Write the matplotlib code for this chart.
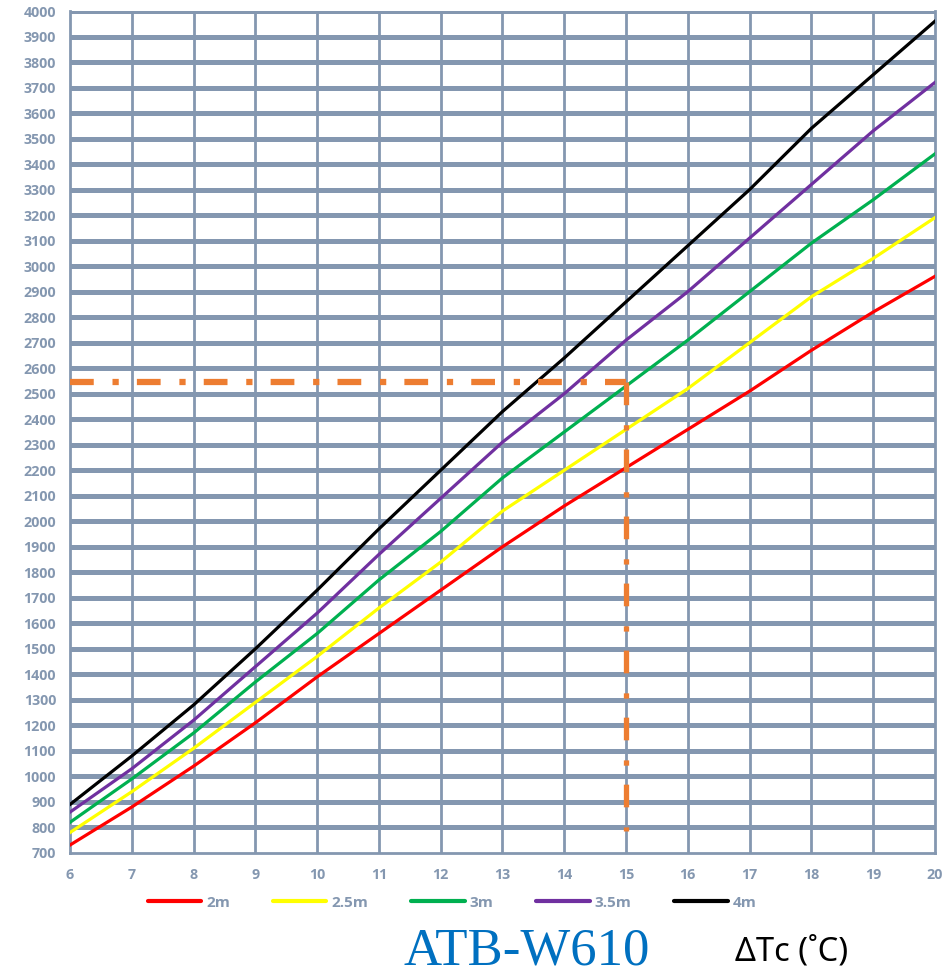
import matplotlib.pyplot as plt
import numpy as np

# Puissance en fonction de ΔTc pour chaque hauteur
delta_tc = [6, 7, 8, 9, 10, 11, 12, 13, 14, 15, 16, 17, 18, 19, 20]
p_2m = [731, 880, 1040, 1210, 1390, 1560, 1730, 1900, 2060, 2210, 2360, 2510, 2670, 2820, 2960]
p_2_5m = [780, 940, 1110, 1290, 1470, 1660, 1840, 2040, 2200, 2360, 2520, 2700, 2880, 3030, 3190]
p_3m = [820, 990, 1170, 1370, 1560, 1770, 1960, 2170, 2350, 2530, 2710, 2900, 3090, 3260, 3440]
p_3_5m = [860, 1030, 1220, 1430, 1640, 1870, 2090, 2310, 2500, 2710, 2900, 3110, 3320, 3530, 3720]
p_4m = [890, 1080, 1280, 1500, 1730, 1970, 2200, 2430, 2640, 2860, 3080, 3300, 3540, 3750, 3960]

series = [('2m', p_2m, '#FF0000'),
          ('2.5m', p_2_5m, '#FFFF00'),
          ('3m', p_3m, '#00B050'),
          ('3.5m', p_3_5m, '#7030A0'),
          ('4m', p_4m, '#000000')]

# Point de lecture
x_lect = 15
y_lect = 2545
y_bas = 785

grid_color = '#8497B0'

fig = plt.figure(figsize=(9.53, 9.77), dpi=100)
ax = fig.add_axes([0.0735, 0.127, 0.9075, 0.8617])

ax.set_xlim(6, 20)
ax.set_ylim(700, 4000)
ax.set_xticks(np.arange(6, 21, 1))
ax.set_yticks(np.arange(700, 4001, 100))

for v in np.arange(800, 4001, 100):
    ax.axhline(v, color=grid_color, lw=3.6, zorder=1)
for t in np.arange(7, 20, 1):
    ax.axvline(t, color=grid_color, lw=2.0, zorder=1)

for s in ['left', 'right', 'bottom']:
    ax.spines[s].set_color(grid_color)
    ax.spines[s].set_linewidth(2.0)
ax.spines['top'].set_visible(False)

ax.tick_params(length=0, colors=grid_color)
ax.tick_params(axis='x', pad=11)
ax.tick_params(axis='y', pad=10)
for lab in ax.get_xticklabels() + ax.get_yticklabels():
    lab.set_fontweight('bold')
    lab.set_fontsize(10.3)
    lab.set_family('Open Sans')

for nom, vals, col in series:
    ax.plot(delta_tc, vals, color=col, lw=2.3, label=nom, zorder=3)

# Lignes de lecture en trait mixte
ax.plot([6, x_lect], [y_lect, y_lect], color='#ED7D31', lw=4.5,
        dashes=[3.8, 3.0, 1.0, 2.9], zorder=4)
ax.plot([x_lect, x_lect], [y_lect, y_bas], color='#ED7D31', lw=3.8,
        dashes=[4.3, 3.8, 1.0, 3.6], zorder=4)

leg = ax.legend(loc='center', bbox_to_anchor=(0.442, -0.059), ncol=5,
                frameon=False, handlelength=3.5, columnspacing=2.8,
                handletextpad=0.33,
                prop={'family': 'Open Sans', 'weight': 'bold', 'size': 11})
for txt in leg.get_texts():
    txt.set_color(grid_color)
for h in leg.get_lines():
    h.set_linewidth(3)
    h.set_solid_capstyle('round')

fig.text(0.553, 0.002, 'ATB-W610', color='#0070C0', fontsize=38,
         family='Liberation Serif', ha='center', va='bottom')
fig.text(0.831, 0.0164, 'ΔTc (˚C)', color='black', fontsize=23.5,
         family='Noto Sans', ha='center', va='baseline')

fig.savefig('out.png', dpi=100)
